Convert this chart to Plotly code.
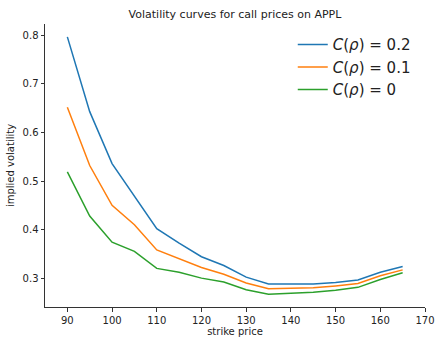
import plotly.graph_objects as go

strikes = [90, 95, 100, 105, 110, 115, 120, 125, 130, 135, 140, 145, 150, 155, 160, 165]
vol_02 = [0.797, 0.643, 0.536, 0.470, 0.402, 0.372, 0.344, 0.326, 0.302, 0.288, 0.288, 0.288, 0.291, 0.296, 0.312, 0.324]
vol_01 = [0.652, 0.532, 0.450, 0.410, 0.358, 0.340, 0.322, 0.308, 0.290, 0.278, 0.279, 0.280, 0.284, 0.289, 0.305, 0.317]
vol_00 = [0.519, 0.428, 0.374, 0.355, 0.320, 0.312, 0.300, 0.292, 0.276, 0.267, 0.269, 0.271, 0.275, 0.281, 0.297, 0.311]
names = ["<i>C</i>(<i>ρ</i>) = 0.2", "<i>C</i>(<i>ρ</i>) = 0.1", "<i>C</i>(<i>ρ</i>) = 0"]
colors = ["#1f77b4", "#ff7f0e", "#2ca02c"]

fig = go.Figure()
for ys, nm, c in zip([vol_02, vol_01, vol_00], names, colors):
    fig.add_trace(go.Scatter(x=strikes, y=ys, mode="lines", name=nm,
                             line=dict(color=c, width=1.5)))

axis_common = dict(showline=True, linecolor="#333", linewidth=1, ticks="outside",
                   ticklen=3.5, tickcolor="#333", showgrid=False, zeroline=False,
                   automargin=False,
                   tickfont=dict(family="DejaVu Sans", size=10, color="#222"))
fig.update_layout(
    width=436, height=337,
    margin=dict(l=45, r=11, t=24, b=30),
    plot_bgcolor="white", paper_bgcolor="white",
    title=dict(text="Volatility curves for call prices on APPL", x=0.539, xanchor="center",
               y=0.958, yanchor="middle", automargin=False,
               font=dict(family="DejaVu Sans", size=11, color="#222")),
    xaxis=dict(range=[85, 170], tickvals=[90, 100, 110, 120, 130, 140, 150, 160, 170],
               title=dict(text="strike price", standoff=9,
                          font=dict(family="DejaVu Sans", size=10, color="#222")),
               **axis_common),
    yaxis=dict(range=[0.2405, 0.8235], tickvals=[0.3, 0.4, 0.5, 0.6, 0.7, 0.8],
               tickformat=".1f",
               title=dict(text="implied volatility", standoff=6,
                          font=dict(family="DejaVu Sans", size=10, color="#222")),
               **axis_common),
    legend=dict(x=0.652, y=0.985, xanchor="left", yanchor="top",
                font=dict(family="DejaVu Sans", size=15, color="#222"),
                bgcolor="rgba(0,0,0,0)", tracegroupgap=0, itemwidth=30),
    showlegend=True,
)
fig.write_html("out.html", config={"displayModeBar": False},
               post_script="document.body.style.margin='0';document.body.style.overflow='hidden';")
